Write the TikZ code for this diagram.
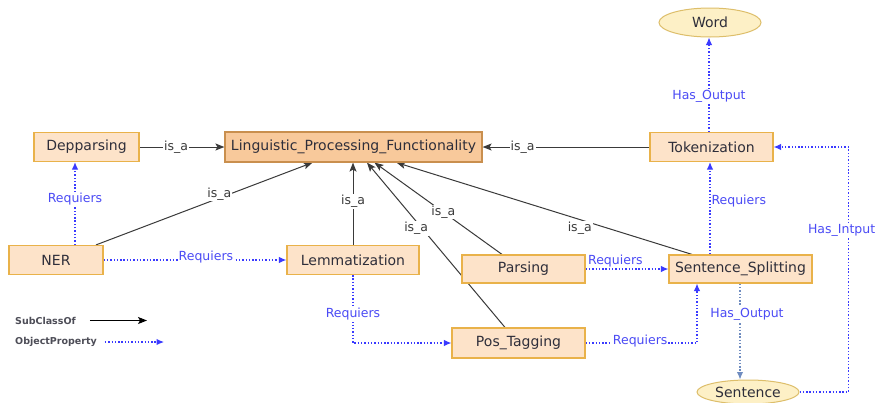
\documentclass[tikz,border=0pt]{standalone}
\usepackage{fontspec}
\setmainfont{DejaVu Sans}
\usetikzlibrary{arrows.meta,shapes.geometric,backgrounds}
\definecolor{boxfill}{HTML}{FDE3C9}
\definecolor{boxdraw}{HTML}{E9B24A}
\definecolor{mainfill}{HTML}{F8C99B}
\definecolor{maindraw}{HTML}{C98F4E}
\definecolor{ellfill}{HTML}{FDF0C6}
\definecolor{elldraw}{HTML}{DDBE6A}
\definecolor{propblue}{HTML}{3A3AFF}
\definecolor{labblue}{HTML}{4B4BF5}
\definecolor{outgray}{HTML}{6F8CC0}
\definecolor{txt}{HTML}{2E2E3A}
\definecolor{isagray}{HTML}{3A3A3A}
\begin{document}
\begin{tikzpicture}[x=1pt,y=-1pt,
  cls/.style={draw=boxdraw, fill=boxfill, line width=1.2pt, inner sep=0pt, text=txt,
    font=\fontsize{14}{16}\selectfont, minimum height=29pt},
  mainbox/.style={cls, draw=maindraw, fill=mainfill},
  ind/.style={ellipse, draw=elldraw, fill=ellfill, line width=1pt, inner sep=0pt, text=txt,
    font=\fontsize{14}{16}\selectfont, minimum width=102pt},
  sub/.style={draw=isagray, line width=1pt, -{Stealth[length=9pt,width=7pt,inset=2pt]}},
  prop/.style={draw=propblue, line width=1.1pt, dash pattern=on 1.4pt off 1.9pt, -{Latex[length=7.5pt,width=6.5pt]}},
  outp/.style={prop, draw=outgray},
  isalab/.style={fill=white, inner sep=1pt, text=isagray, font=\fontsize{12.5}{14}\selectfont},
  proplab/.style={fill=white, inner sep=1pt, text=labblue, font=\fontsize{12.5}{14}\selectfont},
  legtext/.style={inner sep=0pt, text=txt!85, font=\bfseries\fontsize{9.5}{11}\selectfont}
]
\useasboundingbox (0,0) rectangle (880,402);

% classes
\node[cls, minimum width=105pt] (dep) at (86.5,147) {Depparsing};
\node[mainbox, minimum width=257pt, minimum height=30pt] (lpf) at (353.5,147) {Linguistic\_Processing\_Functionality};
\node[cls, minimum width=123pt] (tok) at (711.5,147) {Tokenization};
\node[cls, minimum width=94pt] (ner) at (56,260) {NER};
\node[cls, minimum width=132pt] (lem) at (353,260) {Lemmatization};
\node[cls, minimum width=123pt, minimum height=28pt] (par) at (523.5,269) {Parsing};
\node[cls, minimum width=143pt, minimum height=28pt] (ss) at (740.5,269) {Sentence\_Splitting};
\node[cls, minimum width=133pt, minimum height=30pt] (pos) at (518.5,343) {Pos\_Tagging};
\node[ind, minimum height=29pt] (word) at (710,22.5) {Word};
\node[ind, minimum height=24pt] (sen) at (748,392) {Sentence};

% legend
\node[legtext, anchor=west] (lg1) at (15,320.5) {SubClassOf};
\node[legtext, anchor=west] (lg2) at (15,342) {ObjectProperty};
\coordinate (lg1b) at (147,320.5);
\coordinate (lg2b) at (164,342);

\begin{pgfonlayer}{background}
\fill[white] (0,0) rectangle (880,402);
% is_a
\draw[sub] (dep) -- node[isalab,pos=0.43]{is\_a} (lpf);
\draw[sub] (tok) -- node[isalab,pos=0.76]{is\_a} (lpf);
\draw[sub] ([xshift=40pt]ner.north) -- node[isalab,pos=0.57,yshift=4pt]{is\_a} ([xshift=-41pt]lpf.south);
\draw[sub] (lem.north) -- node[isalab,pos=0.53]{is\_a} (lem.north |- lpf.south);
\draw[sub] ([xshift=-13.5pt]pos.north) -- node[isalab,pos=0.6,xshift=-6pt]{is\_a} ([xshift=13.5pt]lpf.south);
\draw[sub] ([xshift=-21.5pt]par.north) -- node[isalab,pos=0.46]{is\_a} ([xshift=21pt]lpf.south);
\draw[sub] ([xshift=-48.5pt]ss.north) -- node[isalab,pos=0.38,yshift=-9pt]{is\_a} ([xshift=43pt]lpf.south);
% object properties
\draw[prop] ([xshift=19pt]ner.north) -- node[proplab,pos=0.55]{Requiers} ([xshift=-11.5pt]dep.south);
\draw[prop] (ner) -- node[proplab,pos=0.56,yshift=3pt]{Requiers} (lem);
\draw[prop] (lem.south) |- node[proplab,pos=0.29]{Requiers} (pos.west);
\draw[prop] (par) -- node[text=labblue, font=\fontsize{12.5}{14}\selectfont, above, inner sep=1pt, pos=0.36]{Requiers} (ss);
\draw[prop] (pos.east) -| node[proplab,pos=0.245,yshift=2pt]{Requiers} ([xshift=-43.5pt]ss.south);
\draw[prop] ([xshift=-30.5pt]ss.north) -- node[text=labblue, font=\fontsize{12.5}{14}\selectfont, right, inner sep=1pt, pos=0.58]{Requiers} ([xshift=-1.5pt]tok.south);
\draw[prop] ([xshift=-2.5pt]tok.north) -- node[proplab,pos=0.38]{Has\_Output} ([xshift=-1pt]word.south);
\draw[outp] ([xshift=-0.5pt]ss.south) -- node[proplab,pos=0.32,xshift=7pt]{Has\_Output} ([xshift=-8pt]sen.north);
\draw[prop] (sen.east) -| node[proplab,pos=0.83,xshift=-7pt]{Has\_Intput} ([xshift=75pt]tok.east) -- (tok.east);
% legend arrows
\draw[sub, draw=black] ([xshift=14pt]lg1.east) -- (lg1b);
\draw[prop] ([xshift=8pt]lg2.east) -- (lg2b);
\end{pgfonlayer}
\end{tikzpicture}
\end{document}
